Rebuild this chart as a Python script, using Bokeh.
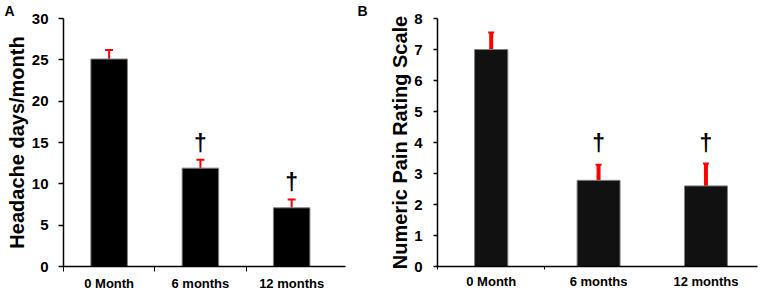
from bokeh.plotting import figure
from bokeh.layouts import row
from bokeh.models import (Range1d, FixedTicker, ColumnDataSource, Whisker, TeeHead, Title)
from bokeh.core.properties import value
from bokeh.embed import file_html
from bokeh.resources import INLINE

# ---- data ----
categories = ["0 Month", "6 months", "12 months"]
headache_days = [25.1, 11.9, 7.1]
headache_err = [1.1, 1.0, 1.0]
headache_sig = ["", "\u2020", "\u2020"]
headache_sig_y = [0, 14.9, 10.2]

pain_nrs = [7.0, 2.78, 2.6]
pain_err = [0.55, 0.5, 0.72]
pain_sig = ["", "\u2020", "\u2020"]
pain_sig_y = [0, 4.0, 4.0]

yticks_a = [0, 5, 10, 15, 20, 25, 30]
yticks_b = [0, 1, 2, 3, 4, 5, 6, 7, 8]

FONT = "Liberation Sans"
xs = [i + 0.5 for i in range(len(categories))]


def style(p, yticks, ylabel, minor_x, ytick_len, tick_standoff, label_standoff, letter, letter_offset):
    p.xgrid.visible = False
    p.ygrid.visible = False
    p.outline_line_color = None
    p.background_fill_color = "white"
    p.border_fill_color = "white"
    xa = p.xaxis[0]
    xa.ticker = FixedTicker(ticks=xs, minor_ticks=minor_x)
    xa.major_label_overrides = {x: c for x, c in zip(xs, categories)}
    xa.major_tick_line_color = None
    xa.major_tick_out = 0
    xa.major_tick_in = 0
    xa.minor_tick_out = 5
    xa.minor_tick_in = 0
    xa.minor_tick_line_color = "black"
    xa.axis_line_color = "black"
    xa.axis_line_width = 1.5
    xa.major_label_text_font = FONT
    xa.major_label_text_font_style = "bold"
    xa.major_label_text_font_size = "13px"
    xa.major_label_text_color = "black"
    xa.major_label_standoff = 4
    ya = p.yaxis[0]
    ya.ticker = FixedTicker(ticks=yticks)
    ya.minor_tick_line_color = None
    ya.major_tick_out = ytick_len
    ya.major_tick_in = 0
    ya.major_tick_line_color = "black"
    ya.major_tick_line_width = 1.5
    ya.axis_line_color = "black"
    ya.axis_line_width = 1.5
    ya.major_label_text_font = FONT
    ya.major_label_text_font_style = "bold"
    ya.major_label_text_font_size = "15px"
    ya.major_label_text_color = "black"
    ya.major_label_standoff = tick_standoff
    ya.axis_label = ylabel
    ya.axis_label_text_font = FONT
    ya.axis_label_text_font_style = "bold"
    ya.axis_label_text_font_size = "20px"
    ya.axis_label_text_line_height = 0.8
    ya.axis_label_text_color = "black"
    ya.axis_label_standoff = label_standoff
    p.add_layout(Title(text=letter, align="left", offset=letter_offset, standoff=0,
                       text_font=FONT, text_font_style="bold", text_font_size="14px",
                       text_line_height=0.8, text_color="black"), "above")


# ---- Panel A ----
pA = figure(width=350, height=293, output_backend="svg", toolbar_location=None,
            x_range=Range1d(0, 3.09), y_range=Range1d(0, 30),
            min_border_left=63, min_border_right=5, min_border_top=17, min_border_bottom=26)
style(pA, yticks_a, "Headache days/month", [0, 1, 2], 5, 10, 1, "A", -59)

srcA = ColumnDataSource(dict(x=xs, top=headache_days,
                             upper=[v + e for v, e in zip(headache_days, headache_err)],
                             sig=headache_sig, sig_y=headache_sig_y))
pA.vbar(x="x", top="top", width=0.4, bottom=0, source=srcA,
        fill_color="black", line_color="#808080", line_width=1)
pA.add_layout(Whisker(source=srcA, base="x", lower="top", upper="upper", dimension="height",
                      line_color="red", line_width=2, lower_head=None,
                      upper_head=TeeHead(size=8, line_color="red", line_width=2)))
pA.text(x="x", y="sig_y", text="sig", source=srcA, text_align="center", text_baseline="middle",
        text_font=value(FONT), text_font_style="bold", text_font_size="23px", text_color="black")

# ---- Panel B ----
pB = figure(width=415, height=293, output_backend="svg", toolbar_location=None,
            x_range=Range1d(0, 2.98), y_range=Range1d(0, 8),
            min_border_left=87, min_border_right=8, min_border_top=17, min_border_bottom=26)
style(pB, yticks_b, "Numeric Pain Rating Scale", [0, 1], 4, 11, 0, "B", -80)
pB.xaxis[0].minor_tick_out = 3

srcB = ColumnDataSource(dict(x=xs, top=pain_nrs, w=[0.31, 0.4, 0.4],
                             upper=[v + e for v, e in zip(pain_nrs, pain_err)],
                             sig=pain_sig, sig_y=pain_sig_y))
pB.vbar(x="x", top="top", width="w", bottom=0, source=srcB,
        fill_color="#111111", line_color="#808080", line_width=1)
pB.add_layout(Whisker(source=srcB, base="x", lower="top", upper="upper", dimension="height",
                      line_color="red", line_width=4, lower_head=None,
                      upper_head=TeeHead(size=6, line_color="red", line_width=2)))
pB.text(x="x", y="sig_y", text="sig", source=srcB, text_align="center", text_baseline="middle",
        text_font=value(FONT), text_font_style="bold", text_font_size="23px", text_color="black")

layout = row(pA, pB)
open("out.html", "w").write(file_html(layout, INLINE))
